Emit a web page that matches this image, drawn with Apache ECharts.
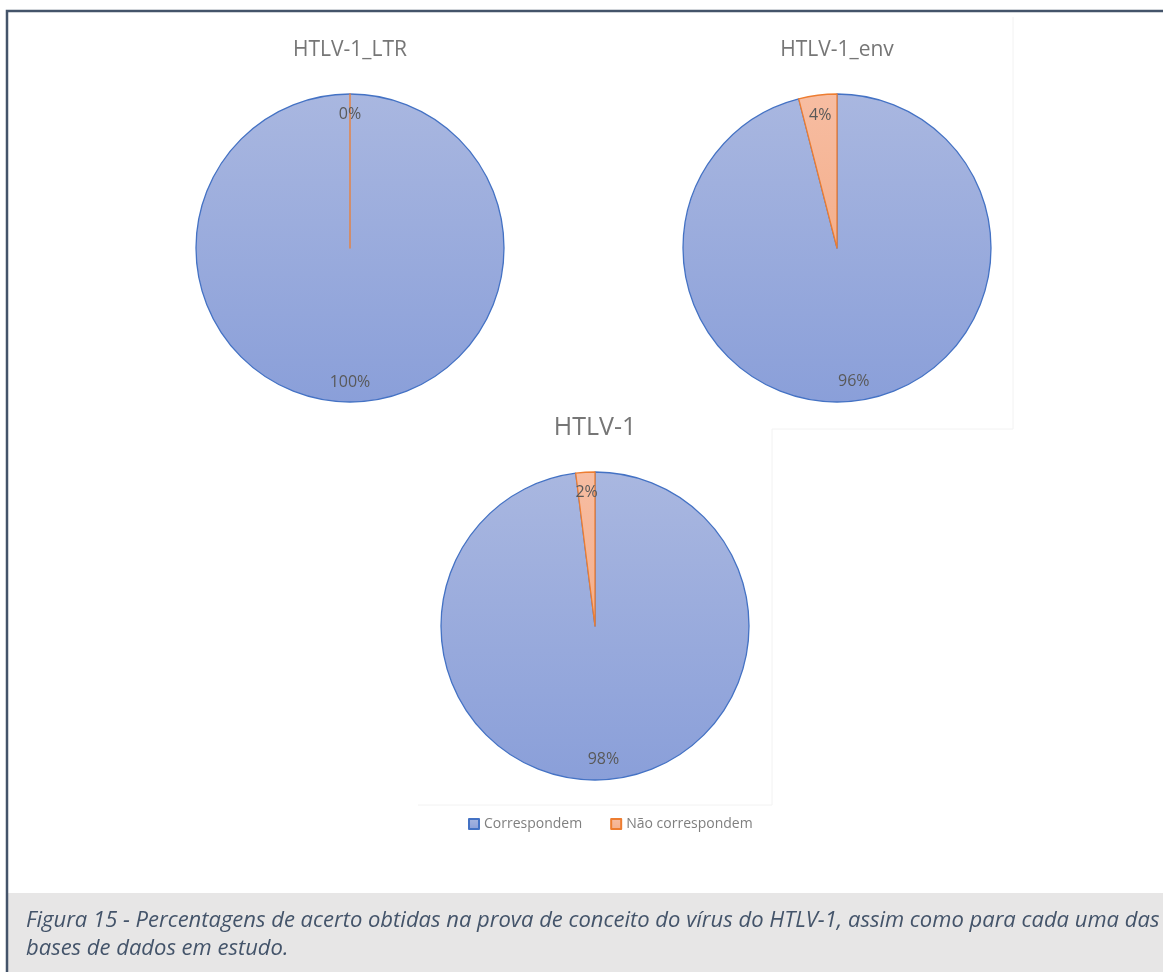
<!DOCTYPE html>
<html>
<head>
<meta charset="utf-8">
<script src="https://cdn.jsdelivr.net/npm/echarts@6/dist/echarts.min.js"></script>
<style>
html,body{margin:0;padding:0;background:#fff;}
#chart{width:1163px;height:972px;}
</style>
</head>
<body>
<div id="chart"></div>
<script>
// ---- data ----
const categories = ['Correspondem', 'Não correspondem'];
const chartTitles = ['HTLV-1_LTR', 'HTLV-1_env', 'HTLV-1'];
const ltrValues = [100, 0];
const envValues = [96, 4];
const htlvValues = [98, 2];
const captionLines = [
  'Figura 15 - Percentagens de acerto obtidas na prova de conceito do vírus do HTLV-1, assim como para cada uma das',
  'bases de dados em estudo.'
];

// ---- styles ----
const FONT = '"Open Sans", "Noto Sans", sans-serif';
const fills = [
  {type:'linear', x:0, y:0, x2:0, y2:1, colorStops:[{offset:0,color:'#A9B7E0'},{offset:1,color:'#8A9FD9'}]},
  {type:'linear', x:0, y:0, x2:0, y2:1, colorStops:[{offset:0,color:'#F7BDA2'},{offset:1,color:'#F4AF8C'}]}
];
const borders = ['#4472C4', '#ED7D31'];

function mainData(values){
  return categories.map((c,i)=>({name:c, value:values[i],
    itemStyle:{color:fills[i], borderColor:borders[i], borderWidth:1.3}}));
}
function labelData(values){
  return categories.map((c,i)=>({name:c, value:values[i]}));
}
const R = 154;
function pies(values, center){
  return [
    {type:'pie', radius:R, center:center, startAngle:90, clockwise:true,
     avoidLabelOverlap:false, percentPrecision:0, emphasis:{disabled:true},
     label:{show:false}, labelLine:{show:false}, data:mainData(values)},
    {type:'pie', radius:[108, R], center:center, startAngle:90, clockwise:true, silent:true,
     avoidLabelOverlap:false, percentPrecision:0, emphasis:{disabled:true},
     itemStyle:{color:'rgba(0,0,0,0)', borderWidth:0},
     label:{show:true, position:'inside', formatter:'{d}%', color:'#595959', fontSize:16, fontFamily:FONT},
     labelLine:{show:false}, data:labelData(values), z:3}
  ];
}

const chart = echarts.init(document.getElementById('chart'));
chart.setOption({
  animation:false,
  backgroundColor:'#ffffff',
  legend:{
    data:categories, left:463, top:812, itemWidth:10, itemHeight:10, itemGap:28,
    icon:'rect', selectedMode:false,
    textStyle:{color:'#7F7F7F', fontSize:14, fontFamily:FONT}
  },
  graphic:[
    {type:'rect', shape:{x:8, y:893, width:1160, height:90}, style:{fill:'#E7E6E6'}, z:0},
    {type:'rect', shape:{x:7, y:11, width:1170, height:1000}, style:{fill:'none', stroke:'#44546A', lineWidth:2.5}, z:10},
    {type:'line', shape:{x1:1013, y1:17, x2:1013, y2:429}, style:{stroke:'#F2F2F2', lineWidth:1}},
    {type:'line', shape:{x1:772, y1:429, x2:1013, y2:429}, style:{stroke:'#F2F2F2', lineWidth:1}},
    {type:'line', shape:{x1:772, y1:429, x2:772, y2:805}, style:{stroke:'#F2F2F2', lineWidth:1}},
    {type:'line', shape:{x1:418, y1:805, x2:772, y2:805}, style:{stroke:'#F2F2F2', lineWidth:1}},
    {type:'text', x:350, y:50, style:{text:chartTitles[0], fontSize:21, fontFamily:FONT, fill:'#767676', align:'center', verticalAlign:'middle'}},
    {type:'text', x:837, y:50, style:{text:chartTitles[1], fontSize:21, fontFamily:FONT, fill:'#767676', align:'center', verticalAlign:'middle'}},
    {type:'text', x:595, y:428, style:{text:chartTitles[2], fontSize:25, fontFamily:FONT, fill:'#767676', align:'center', verticalAlign:'middle'}},
    {type:'text', x:26, y:907, z:5, style:{text:captionLines.join('\n'), fontSize:22, fontStyle:'italic', fontFamily:FONT, fill:'#44546A', lineHeight:28, align:'left', verticalAlign:'top'}}
  ],
  series:[].concat(
    pies(ltrValues, [350, 248]),
    pies(envValues, [837, 248]),
    pies(htlvValues, [595, 626])
  )
});
</script>
</body>
</html>
